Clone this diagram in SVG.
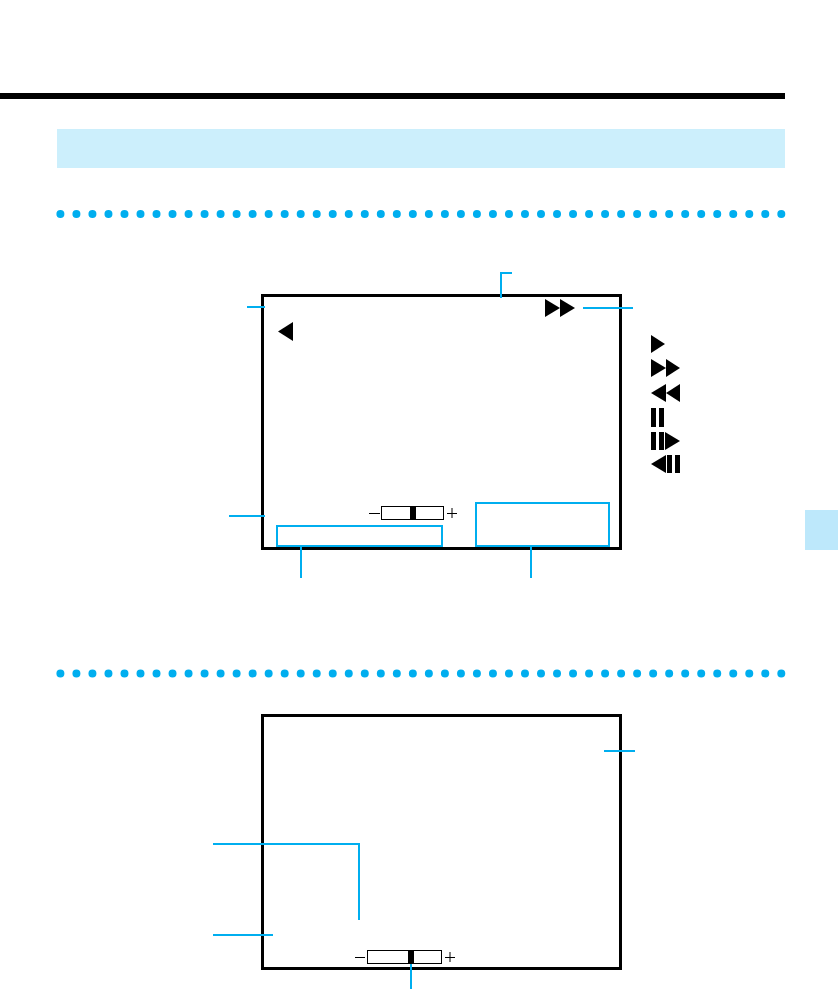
<svg xmlns="http://www.w3.org/2000/svg" width="838" height="989" viewBox="0 0 838 989">
<style>
.frame{fill:none;stroke:#000;stroke-width:3}
.conn{fill:none;stroke:#00aeef;stroke-width:2}
.dots{fill:none;stroke:#00aeef;stroke-width:8;stroke-linecap:round;stroke-dasharray:0 16.02}
.slider{fill:#fff;stroke:#000;stroke-width:1}
.sign{fill:none;stroke:#000;stroke-width:1}
</style>
<rect width="838" height="989" fill="#fff"/>
<g id="page-header">
<rect x="0" y="93" width="785" height="6" fill="#000"/>
<rect x="57" y="129" width="728" height="39" fill="#cceffc"/>
<rect x="805" y="510" width="33" height="40" fill="#bde8fb"/>
</g>
<g id="dots">
<line class="dots" x1="60.4" y1="214" x2="782" y2="214"/>
<line class="dots" x1="60.4" y1="673.4" x2="782" y2="673.4"/>
</g>
<g id="screen-1">
<rect class="frame" x="262.5" y="295.5" width="358" height="253"/>
<polygon points="293,322 293,341 278,331.5"/>
<polygon points="545,299 560,308 545,317"/>
<polygon points="560,299 575,308 560,317"/>
</g>
<g id="volume-1">
<path class="sign" d="M369 513.5H380M447 513.5H457M452 508V518"/>
<rect class="slider" x="381.5" y="506.5" width="62" height="13"/>
<rect x="410" y="506" width="6" height="14"/>
</g>
<g id="symbols">
<polygon points="651,335 665,344 651,353"/>
<polygon points="651,359 666,368 651,377"/>
<polygon points="666,359 680,368 666,377"/>
<polygon points="666,384 651,393 666,402"/>
<polygon points="680,384 666,393 680,402"/>
<rect x="651" y="408" width="5" height="19"/>
<rect x="659" y="408" width="5" height="19"/>
<rect x="651" y="432" width="5" height="18"/>
<rect x="659" y="432" width="5" height="18"/>
<polygon points="665,432 680,441 665,450"/>
<polygon points="666,455 651,464 666,473"/>
<rect x="667" y="455" width="5" height="18"/>
<rect x="675" y="455" width="5" height="18"/>
</g>
<g id="screen-2">
<rect class="frame" x="262.5" y="715.5" width="358" height="253"/>
</g>
<g id="volume-2">
<path class="sign" d="M355 957.5H365M445 957.5H455M450 952V962"/>
<rect class="slider" x="367.5" y="950.5" width="74" height="13"/>
<rect x="408" y="950" width="6" height="14"/>
</g>
<g id="connectors">
<path class="conn" d="M501 298V273H512"/>
<path class="conn" d="M247 307H265"/>
<path class="conn" d="M583 308H633"/>
<path class="conn" d="M229 516H265"/>
<rect class="conn" x="277" y="526" width="165" height="20"/>
<rect class="conn" x="476" y="503" width="133" height="43"/>
<path class="conn" d="M301 547V578"/>
<path class="conn" d="M531 547V578"/>
<path class="conn" d="M604 751H635"/>
<path class="conn" d="M213 844H359V920"/>
<path class="conn" d="M213 935H273"/>
<path class="conn" d="M411 964V989"/>
</g>
</svg>
